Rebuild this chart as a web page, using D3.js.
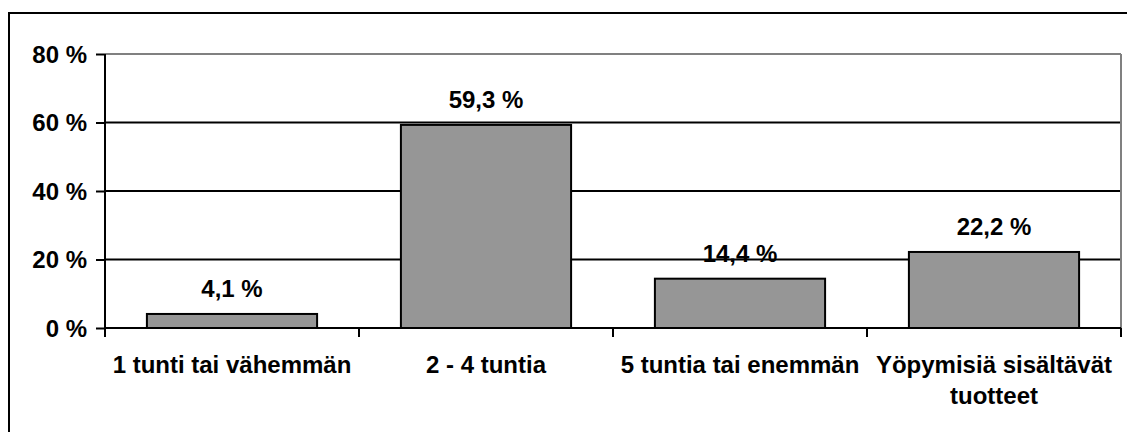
<!DOCTYPE html>
<html>
<head>
<meta charset="utf-8">
<script src="https://cdn.jsdelivr.net/npm/d3@7"></script>
<style>
    body { margin: 0; background: #fff; }
    svg text { font-family: Arial, "Liberation Sans", sans-serif; font-weight: bold; font-size: 24px; fill: #000; }
</style>
</head>
<body>
<div id="chart"></div>
<script>
//Datos
const categories = ['1 tunti tai vähemmän', '2 - 4 tuntia', '5 tuntia tai enemmän', 'Yöpymisiä sisältävät tuotteet'];
const values = [4.1, 59.3, 14.4, 22.2];
const valueLabels = ['4,1 %', '59,3 %', '14,4 %', '22,2 %'];
const yTicks = [0, 20, 40, 60, 80];

const W = 1127, H = 432;
let margin = {top: 54, right: 6, bottom: 104, left: 105},
    width = W - margin.left - margin.right,
    height = H - margin.top - margin.bottom;

let root = d3.select('#chart')
    .append('svg')
    .attr('width', W)
    .attr('height', H);

//Marco exterior (solo se ve arriba y a la izquierda)
root.append('rect')
    .attr('x', 9).attr('y', 13)
    .attr('width', 1300).attr('height', 600)
    .attr('fill', 'none')
    .attr('stroke', '#000')
    .attr('stroke-width', 2);

let svg = root.append('g')
    .attr('transform', 'translate(' + margin.left + ',' + margin.top + ')');

let x = d3.scaleBand()
    .domain(categories)
    .range([0, width])
    .paddingInner(0.33)
    .paddingOuter(0.165);

let y = d3.scaleLinear()
    .domain([0, 80])
    .range([height, 0]);

//Rejilla
svg.selectAll('.grid')
    .data(yTicks.filter(function(d) { return d > 0; }))
    .enter()
    .append('line')
    .attr('x1', 0).attr('x2', width)
    .attr('y1', function(d) { return y(d); })
    .attr('y2', function(d) { return y(d); })
    .attr('stroke', function(d) { return d == 80 ? '#808080' : '#000'; })
    .attr('stroke-width', 2);

//Borde derecho
svg.append('line')
    .attr('x1', width).attr('x2', width)
    .attr('y1', y(80)).attr('y2', y(0))
    .attr('stroke', '#808080')
    .attr('stroke-width', 2);

//Barras
svg.selectAll('.bar')
    .data(values)
    .enter()
    .append('rect')
    .attr('class', 'bar')
    .attr('x', function(d, i) { return x(categories[i]); })
    .attr('y', function(d) { return y(d); })
    .attr('width', x.bandwidth())
    .attr('height', function(d) { return y(0) - y(d); })
    .attr('fill', '#969696')
    .attr('stroke', '#000')
    .attr('stroke-width', 2);

//Etiquetas de valores
svg.selectAll('.label')
    .data(values)
    .enter()
    .append('text')
    .attr('x', function(d, i) { return x(categories[i]) + x.bandwidth() / 2; })
    .attr('y', function(d) { return y(d) - 17; })
    .attr('text-anchor', 'middle')
    .text(function(d, i) { return valueLabels[i]; });

//Eje Y
let yAxis = svg.append('g')
    .call(d3.axisLeft(y).tickValues(yTicks).tickSize(9).tickPadding(9).tickFormat(function(d) { return d + ' %'; }));
yAxis.selectAll('text').attr('dy', '0.34em').style('font-size', '24px').style('font-family', 'Arial, "Liberation Sans", sans-serif');
yAxis.selectAll('line, path').attr('stroke', '#000').attr('stroke-width', 2);
yAxis.select('.domain').attr('d', 'M0,' + y(80) + 'V' + y(0));

//Eje X
let step = x.step();
let xAxis = svg.append('g')
    .attr('transform', 'translate(0,' + height + ')');
xAxis.append('line')
    .attr('x1', 0).attr('x2', width)
    .attr('stroke', '#000').attr('stroke-width', 2);
xAxis.selectAll('.tick')
    .data(d3.range(categories.length + 1))
    .enter()
    .append('line')
    .attr('x1', function(i) { return i * width / categories.length; })
    .attr('x2', function(i) { return i * width / categories.length; })
    .attr('y1', 0).attr('y2', 9)
    .attr('stroke', '#000').attr('stroke-width', 2);

xAxis.selectAll('.cat')
    .data(categories)
    .enter()
    .append('text')
    .attr('text-anchor', 'middle')
    .attr('x', function(d) { return x(d) + x.bandwidth() / 2; })
    .attr('y', 45)
    .each(function(d) {
        let el = d3.select(this);
        let words = d.split(' ');
        let line = [], lines = [];
        let tmp = el.append('tspan');
        words.forEach(function(w) {
            line.push(w);
            tmp.text(line.join(' '));
            if (tmp.node().getComputedTextLength() > step - 4 && line.length > 1) {
                line.pop();
                lines.push(line.join(' '));
                line = [w];
            }
        });
        lines.push(line.join(' '));
        tmp.remove();
        lines.forEach(function(l, k) {
            el.append('tspan')
                .attr('x', x(d) + x.bandwidth() / 2)
                .attr('dy', k == 0 ? 0 : 31)
                .text(l);
        });
    });
</script>
</body>
</html>
